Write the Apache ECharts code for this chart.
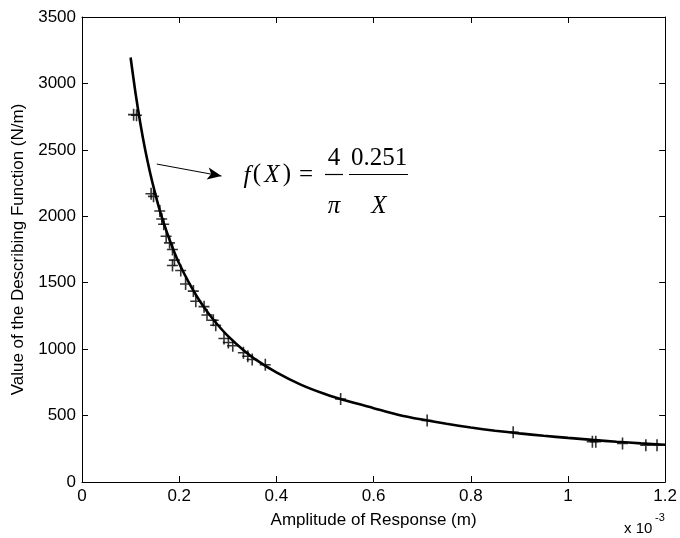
<!DOCTYPE html>
<html>
<head>
<meta charset="utf-8">
<script src="https://cdn.jsdelivr.net/npm/echarts@6/dist/echarts.min.js"></script>
<style>
  html, body { margin: 0; padding: 0; background: #ffffff; }
  #chart { width: 680px; height: 538px; }
</style>
</head>
<body>
<div id="chart"></div>
<script>
// Fitted describing-function curve, amplitude in units of 1e-3 m
const curveX = [0.100, 0.110, 0.120, 0.130, 0.140, 0.150, 0.160, 0.170, 0.180, 0.190,
                0.200, 0.220, 0.240, 0.260, 0.280, 0.300, 0.330, 0.360, 0.400, 0.450,
                0.500, 0.550, 0.600, 0.650, 0.700, 0.750, 0.800, 0.850, 0.900, 0.950,
                1.000, 1.050, 1.100, 1.150, 1.200];
const curveY = [3195, 2930, 2700, 2500, 2330, 2180, 2045, 1930, 1825, 1730,
                1645, 1500, 1375, 1270, 1180, 1100, 1000, 915, 825, 733,
                662, 605, 556, 507, 470, 438, 410, 386, 366, 348,
                332, 317, 303, 291, 280];

// Measured points (+ markers)
const measuredX = [0.106, 0.112, 0.142, 0.147, 0.160, 0.164, 0.168, 0.173, 0.180, 0.186,
                   0.190, 0.186, 0.203, 0.213, 0.229, 0.234, 0.251, 0.257, 0.270, 0.275,
                   0.292, 0.301, 0.310, 0.332, 0.341, 0.350, 0.377, 0.532, 0.710, 0.887,
                   1.050, 1.057, 1.112, 1.160, 1.183];
const measuredY = [2765, 2760, 2170, 2150, 2040, 1980, 1940, 1850, 1800, 1750,
                   1670, 1630, 1592, 1490, 1437, 1360, 1320, 1257, 1218, 1180,
                   1080, 1050, 1025, 973, 947, 922, 883, 625, 463, 375,
                   303, 303, 290, 277, 277];

// Axis ranges and tick steps
const xRange = [0, 1.2];
const xStep = 0.2;
const yRange = [0, 3500];
const yStep = 500;

const xTitle = 'Amplitude of Response (m)';
const yTitle = 'Value of the Describing Function (N/m)';

const chart = echarts.init(document.getElementById('chart'), null, { renderer: 'canvas' });

const sansFont = 'Liberation Sans, Arial, sans-serif';
const serifFont = 'Liberation Serif, Times New Roman, serif';

function frameAxis(extra) {
  return Object.assign({
    type: 'value',
    axisLine: { show: true, onZero: false, lineStyle: { color: '#000', width: 1 } },
    axisTick: { show: true, inside: true, length: 6, lineStyle: { color: '#000', width: 1 } },
    splitLine: { show: false },
    axisLabel: { show: false }
  }, extra);
}

const plainNumber = (v) => String(Math.round(v * 1000) / 1000);

const curveData = curveX.map((x, i) => [x, curveY[i]]);
const pointData = measuredX.map((x, i) => [x, measuredY[i]]);

function mathText(x, y, text, italic) {
  return {
    type: 'text', x: x, y: y,
    style: {
      text: text,
      font: (italic ? 'italic ' : '') + '25px ' + serifFont,
      fill: '#000', align: 'center', verticalAlign: 'middle'
    }
  };
}

const option = {
  backgroundColor: '#ffffff',
  animation: false,
  grid: { left: 82, right: 10, top: 17, bottom: 56, containLabel: false },
  xAxis: [
    frameAxis({
      min: xRange[0], max: xRange[1], interval: xStep, position: 'bottom',
      axisLabel: { show: true, color: '#000', fontSize: 17, fontFamily: sansFont, margin: 6, formatter: plainNumber },
      name: xTitle, nameLocation: 'middle', nameGap: 30,
      nameTextStyle: { color: '#000', fontSize: 17, fontFamily: sansFont }
    }),
    frameAxis({ min: xRange[0], max: xRange[1], interval: xStep, position: 'top' })
  ],
  yAxis: [
    frameAxis({
      min: yRange[0], max: yRange[1], interval: yStep, position: 'left',
      axisLabel: { show: true, color: '#000', fontSize: 17, fontFamily: sansFont, margin: 6, formatter: plainNumber },
      name: yTitle, nameLocation: 'middle', nameGap: 47, nameRotate: 90,
      nameTextStyle: { color: '#000', fontSize: 17, fontFamily: sansFont }
    }),
    frameAxis({ min: yRange[0], max: yRange[1], interval: yStep, position: 'right' })
  ],
  series: [
    {
      type: 'line',
      data: curveData,
      showSymbol: false,
      smooth: 0.25,
      lineStyle: { color: '#000', width: 2.6 },
      z: 3,
      markLine: {
        silent: true,
        symbol: ['none', 'arrow'],
        symbolSize: [9, 14],
        label: { show: false },
        lineStyle: { color: '#000', width: 1, type: 'solid' },
        data: [[{ coord: [0.154, 2393] }, { coord: [0.287, 2303] }]]
      }
    },
    {
      type: 'scatter',
      data: pointData,
      symbol: 'path://M4.8,0H6.4V12H4.8ZM0,5.2H11V6.8H0Z',
      symbolSize: [11, 12],
      itemStyle: { color: '#000' },
      z: 4
    }
  ],
  graphic: [
    // f(X) = (4/pi) (0.251 / X)
    mathText(247, 176, 'f', true),
    mathText(257, 174, '(', false),
    mathText(272, 175, 'X', true),
    mathText(287, 174, ')', false),
    mathText(306, 175, '=', false),
    mathText(334, 158, '4', false),
    { type: 'line', shape: { x1: 325, y1: 174.5, x2: 343, y2: 174.5 }, style: { stroke: '#000', lineWidth: 1.2 } },
    mathText(334, 206, 'π', true),
    mathText(379, 158, '0.251', false),
    { type: 'line', shape: { x1: 349, y1: 174.5, x2: 408, y2: 174.5 }, style: { stroke: '#000', lineWidth: 1.2 } },
    mathText(379, 206, 'X', true),
    // axis exponent
    { type: 'text', x: 624, y: 529, style: { text: 'x 10', font: '15px ' + sansFont, fill: '#000', align: 'left', verticalAlign: 'middle' } },
    { type: 'text', x: 655, y: 518, style: { text: '-3', font: '11px ' + sansFont, fill: '#000', align: 'left', verticalAlign: 'middle' } }
  ]
};

chart.setOption(option);
</script>
</body>
</html>
